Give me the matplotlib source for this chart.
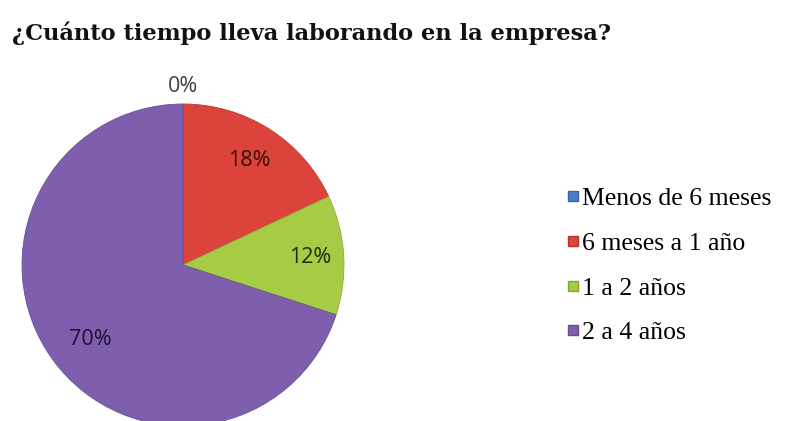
import matplotlib
matplotlib.use("Agg")
import numpy as np
import matplotlib.pyplot as plt
from matplotlib.lines import Line2D

titulo = "¿Cuánto tiempo lleva laborando en la empresa?"
categorias = ["Menos de 6 meses", "6 meses a 1 año", "1 a 2 años", "2 a 4 años"]
porcentajes = [0, 18, 12, 70]
colores = ["#4a7ec5", "#dc433b", "#a6cc46", "#7e5fae"]
colores_texto = ["#404040", "#3a0c0c", "#1c2a08", "#1e1033"]

# distancia radial y angulo (None = centro de la porcion) de cada etiqueta
dist_etiqueta = [1.11, 0.77, 0.79, 0.74]
angulo_etiqueta = [None, None, None, -141]

fig = plt.figure(figsize=(7.88, 4.21), dpi=100)

fig.text(12 / 788, 1 - 33 / 421, titulo, fontsize=16.2, fontweight="bold",
         family="DejaVu Serif", va="center", ha="left", color="#111111")

# circulo de radio 161 px centrado en (183, 265)
cx, cy, r = 183, 265, 161
ax = fig.add_axes([(cx - r) / 788, (421 - cy - r) / 421, 2 * r / 788, 2 * r / 421])
wedges, _ = ax.pie(porcentajes, colors=colores, startangle=90, counterclock=False,
                   radius=1, wedgeprops=dict(linewidth=0.6))
for w in wedges:
    w.set_edgecolor(np.array(w.get_facecolor()[:3]) * 0.85)

for w, p, d, a, c in zip(wedges, porcentajes, dist_etiqueta, angulo_etiqueta, colores_texto):
    ang = (w.theta1 + w.theta2) / 2 if a is None else a
    x = d * np.cos(np.radians(ang))
    y = d * np.sin(np.radians(ang))
    ax.text(x, y, f"{p}%", ha="center", va="center", fontsize=15.5,
            family="Open Sans", color=c)

ax.set_xlim(-1, 1)
ax.set_ylim(-1, 1)
ax.set_aspect("equal")
ax.axis("off")

handles = [Line2D([], [], marker="s", linestyle="none", markersize=7,
                  markerfacecolor=c, markeredgecolor=np.array(matplotlib.colors.to_rgb(c)) * 0.8)
           for c in colores]
fig.legend(handles, categorias, loc="upper left",
           bbox_to_anchor=(568 / 788, 1 - 187 / 421), frameon=False,
           prop=dict(family="Liberation Serif", size=18.5),
           handlelength=0.4, handletextpad=0.15, labelspacing=0.85,
           borderpad=0, borderaxespad=0)

fig.savefig("out.png", dpi=100)
